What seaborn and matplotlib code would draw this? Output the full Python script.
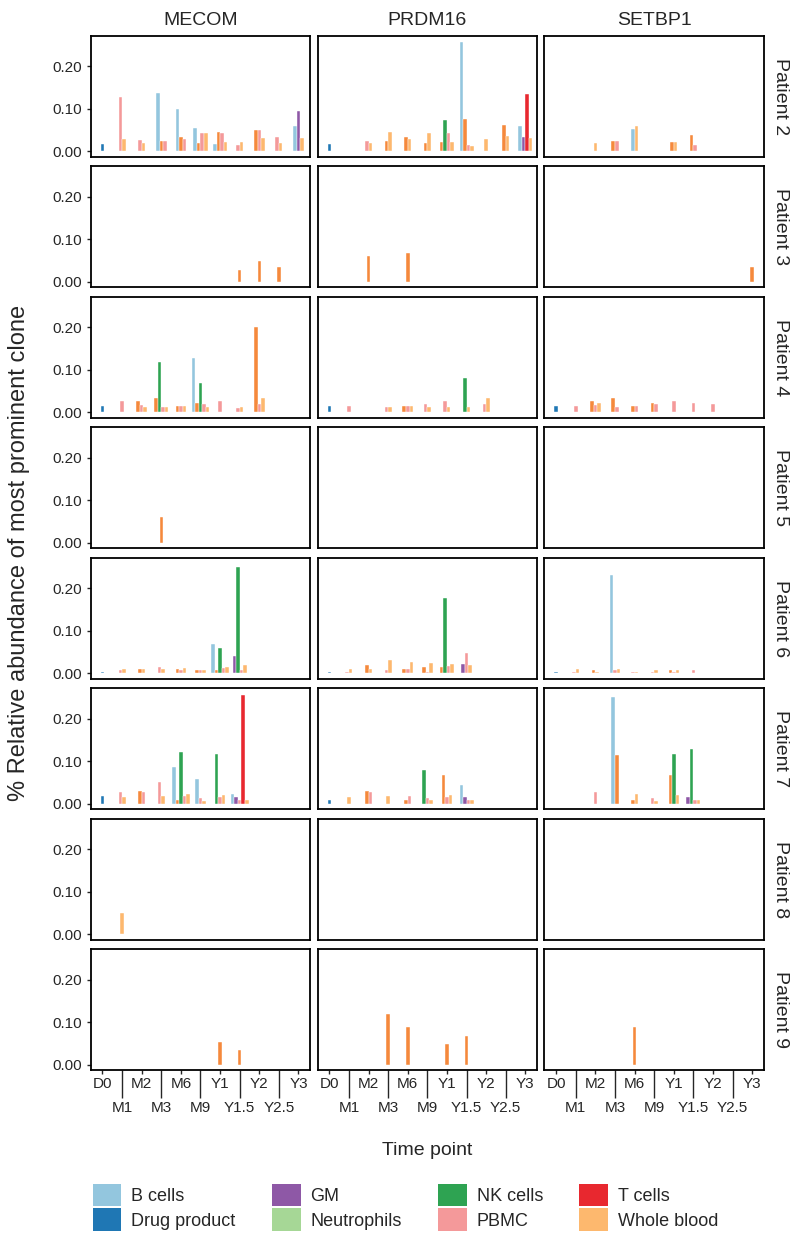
import numpy as np
import pandas as pd
import matplotlib
matplotlib.use("Agg")
import matplotlib.pyplot as plt
import seaborn as sns
from matplotlib.patches import Patch

# 時間點與細胞類型
time_points = ["D0", "M1", "M2", "M3", "M6", "M9", "Y1", "Y1.5", "Y2", "Y2.5", "Y3"]
patients = ["Patient 2", "Patient 3", "Patient 4", "Patient 5",
            "Patient 6", "Patient 7", "Patient 8", "Patient 9"]
genes = ["MECOM", "PRDM16", "SETBP1"]
cell_order = ["B cells", "Bone marrow", "Drug product", "GM", "Neutrophils",
              "NK cells", "PBMC", "T cells", "Whole blood"]
legend_cells = ["B cells", "Drug product", "GM", "Neutrophils",
                "NK cells", "PBMC", "T cells", "Whole blood"]
palette = {"B cells": "#93c6de", "Bone marrow": "#f5893c", "Drug product": "#1f77b4",
           "GM": "#8e58a6", "Neutrophils": "#a6d796", "NK cells": "#2ea352",
           "PBMC": "#f4999a", "T cells": "#e8282f", "Whole blood": "#fdb86e"}

# (patient, time point, cell type, value)
mecom_rows = [
    ("Patient 2", "D0", "Drug product", 0.018),
    ("Patient 2", "M1", "PBMC", 0.127), ("Patient 2", "M1", "Whole blood", 0.029),
    ("Patient 2", "M2", "PBMC", 0.026), ("Patient 2", "M2", "Whole blood", 0.020),
    ("Patient 2", "M3", "B cells", 0.137), ("Patient 2", "M3", "Bone marrow", 0.025), ("Patient 2", "M3", "PBMC", 0.025),
    ("Patient 2", "M6", "B cells", 0.100), ("Patient 2", "M6", "Bone marrow", 0.034), ("Patient 2", "M6", "PBMC", 0.029),
    ("Patient 2", "M9", "B cells", 0.056), ("Patient 2", "M9", "Bone marrow", 0.020), ("Patient 2", "M9", "PBMC", 0.044), ("Patient 2", "M9", "Whole blood", 0.044),
    ("Patient 2", "Y1", "B cells", 0.018), ("Patient 2", "Y1", "Bone marrow", 0.045), ("Patient 2", "Y1", "PBMC", 0.044), ("Patient 2", "Y1", "Whole blood", 0.022),
    ("Patient 2", "Y1.5", "PBMC", 0.015), ("Patient 2", "Y1.5", "Whole blood", 0.023),
    ("Patient 2", "Y2", "Bone marrow", 0.050), ("Patient 2", "Y2", "PBMC", 0.050), ("Patient 2", "Y2", "Whole blood", 0.031),
    ("Patient 2", "Y2.5", "PBMC", 0.033), ("Patient 2", "Y2.5", "Whole blood", 0.020),
    ("Patient 2", "Y3", "B cells", 0.059), ("Patient 2", "Y3", "GM", 0.096), ("Patient 2", "Y3", "Whole blood", 0.032),
    ("Patient 3", "Y1.5", "Bone marrow", 0.028), ("Patient 3", "Y2", "Bone marrow", 0.050), ("Patient 3", "Y2.5", "Bone marrow", 0.035),
    ("Patient 4", "D0", "Drug product", 0.016),
    ("Patient 4", "M1", "PBMC", 0.027),
    ("Patient 4", "M2", "Bone marrow", 0.028), ("Patient 4", "M2", "PBMC", 0.018), ("Patient 4", "M2", "Whole blood", 0.012),
    ("Patient 4", "M3", "Bone marrow", 0.035), ("Patient 4", "M3", "NK cells", 0.119), ("Patient 4", "M3", "PBMC", 0.012), ("Patient 4", "M3", "Whole blood", 0.013),
    ("Patient 4", "M6", "Bone marrow", 0.016), ("Patient 4", "M6", "PBMC", 0.014), ("Patient 4", "M6", "Whole blood", 0.014),
    ("Patient 4", "M9", "B cells", 0.127), ("Patient 4", "M9", "Bone marrow", 0.022), ("Patient 4", "M9", "NK cells", 0.070), ("Patient 4", "M9", "PBMC", 0.019), ("Patient 4", "M9", "Whole blood", 0.013),
    ("Patient 4", "Y1", "PBMC", 0.027),
    ("Patient 4", "Y1.5", "PBMC", 0.011), ("Patient 4", "Y1.5", "Whole blood", 0.013),
    ("Patient 4", "Y2", "Bone marrow", 0.200), ("Patient 4", "Y2", "PBMC", 0.019), ("Patient 4", "Y2", "Whole blood", 0.033),
    ("Patient 5", "M3", "Bone marrow", 0.062),
    ("Patient 6", "D0", "Drug product", 0.003),
    ("Patient 6", "M1", "PBMC", 0.009), ("Patient 6", "M1", "Whole blood", 0.011),
    ("Patient 6", "M2", "Bone marrow", 0.010), ("Patient 6", "M2", "Whole blood", 0.010),
    ("Patient 6", "M3", "PBMC", 0.015), ("Patient 6", "M3", "Whole blood", 0.010),
    ("Patient 6", "M6", "Bone marrow", 0.011), ("Patient 6", "M6", "PBMC", 0.009), ("Patient 6", "M6", "Whole blood", 0.012),
    ("Patient 6", "M9", "Bone marrow", 0.008), ("Patient 6", "M9", "PBMC", 0.008), ("Patient 6", "M9", "Whole blood", 0.008),
    ("Patient 6", "Y1", "B cells", 0.068), ("Patient 6", "Y1", "Bone marrow", 0.008), ("Patient 6", "Y1", "NK cells", 0.060), ("Patient 6", "Y1", "PBMC", 0.013), ("Patient 6", "Y1", "Whole blood", 0.015),
    ("Patient 6", "Y1.5", "GM", 0.040), ("Patient 6", "Y1.5", "NK cells", 0.250), ("Patient 6", "Y1.5", "PBMC", 0.009), ("Patient 6", "Y1.5", "Whole blood", 0.019),
    ("Patient 7", "D0", "Drug product", 0.019),
    ("Patient 7", "M1", "PBMC", 0.027), ("Patient 7", "M1", "Whole blood", 0.016),
    ("Patient 7", "M2", "Bone marrow", 0.031), ("Patient 7", "M2", "PBMC", 0.027),
    ("Patient 7", "M3", "PBMC", 0.051), ("Patient 7", "M3", "Whole blood", 0.018),
    ("Patient 7", "M6", "B cells", 0.086), ("Patient 7", "M6", "Bone marrow", 0.009), ("Patient 7", "M6", "NK cells", 0.122), ("Patient 7", "M6", "PBMC", 0.018), ("Patient 7", "M6", "Whole blood", 0.024),
    ("Patient 7", "M9", "B cells", 0.058), ("Patient 7", "M9", "PBMC", 0.013), ("Patient 7", "M9", "Whole blood", 0.007),
    ("Patient 7", "Y1", "NK cells", 0.118), ("Patient 7", "Y1", "PBMC", 0.016), ("Patient 7", "Y1", "Whole blood", 0.022),
    ("Patient 7", "Y1.5", "B cells", 0.023), ("Patient 7", "Y1.5", "GM", 0.016), ("Patient 7", "Y1.5", "PBMC", 0.009), ("Patient 7", "Y1.5", "T cells", 0.256), ("Patient 7", "Y1.5", "Whole blood", 0.009),
    ("Patient 8", "D0", "Drug product", 0.002),
    ("Patient 8", "M1", "Whole blood", 0.050),
    ("Patient 9", "Y1", "Bone marrow", 0.053), ("Patient 9", "Y1.5", "Bone marrow", 0.036),
]

prdm16_rows = [
    ("Patient 2", "D0", "Drug product", 0.018),
    ("Patient 2", "M2", "PBMC", 0.025), ("Patient 2", "M2", "Whole blood", 0.020),
    ("Patient 2", "M3", "Bone marrow", 0.025), ("Patient 2", "M3", "Whole blood", 0.046),
    ("Patient 2", "M6", "Bone marrow", 0.033), ("Patient 2", "M6", "Whole blood", 0.030),
    ("Patient 2", "M9", "Bone marrow", 0.020), ("Patient 2", "M9", "Whole blood", 0.043),
    ("Patient 2", "Y1", "Bone marrow", 0.023), ("Patient 2", "Y1", "NK cells", 0.075), ("Patient 2", "Y1", "PBMC", 0.044), ("Patient 2", "Y1", "Whole blood", 0.022),
    ("Patient 2", "Y1.5", "B cells", 0.257), ("Patient 2", "Y1.5", "Bone marrow", 0.076), ("Patient 2", "Y1.5", "PBMC", 0.015), ("Patient 2", "Y1.5", "Whole blood", 0.012),
    ("Patient 2", "Y2", "Whole blood", 0.030),
    ("Patient 2", "Y2.5", "Bone marrow", 0.063), ("Patient 2", "Y2.5", "Whole blood", 0.037),
    ("Patient 2", "Y3", "B cells", 0.059), ("Patient 2", "Y3", "GM", 0.033), ("Patient 2", "Y3", "T cells", 0.135), ("Patient 2", "Y3", "Whole blood", 0.031),
    ("Patient 3", "M2", "Bone marrow", 0.060), ("Patient 3", "M6", "Bone marrow", 0.067),
    ("Patient 4", "D0", "Drug product", 0.016),
    ("Patient 4", "M1", "PBMC", 0.014),
    ("Patient 4", "M3", "PBMC", 0.012), ("Patient 4", "M3", "Whole blood", 0.013),
    ("Patient 4", "M6", "Bone marrow", 0.016), ("Patient 4", "M6", "PBMC", 0.014), ("Patient 4", "M6", "Whole blood", 0.014),
    ("Patient 4", "M9", "PBMC", 0.020), ("Patient 4", "M9", "Whole blood", 0.012),
    ("Patient 4", "Y1", "PBMC", 0.027), ("Patient 4", "Y1", "Whole blood", 0.012),
    ("Patient 4", "Y1.5", "NK cells", 0.082), ("Patient 4", "Y1.5", "Whole blood", 0.013),
    ("Patient 4", "Y2", "PBMC", 0.019), ("Patient 4", "Y2", "Whole blood", 0.033),
    ("Patient 6", "D0", "Drug product", 0.003),
    ("Patient 6", "M1", "PBMC", 0.004), ("Patient 6", "M1", "Whole blood", 0.011),
    ("Patient 6", "M2", "Bone marrow", 0.019), ("Patient 6", "M2", "Whole blood", 0.010),
    ("Patient 6", "M3", "PBMC", 0.008), ("Patient 6", "M3", "Whole blood", 0.031),
    ("Patient 6", "M6", "Bone marrow", 0.010), ("Patient 6", "M6", "PBMC", 0.010), ("Patient 6", "M6", "Whole blood", 0.027),
    ("Patient 6", "M9", "Bone marrow", 0.015), ("Patient 6", "M9", "PBMC", 0.003), ("Patient 6", "M9", "Whole blood", 0.024),
    ("Patient 6", "Y1", "Bone marrow", 0.015), ("Patient 6", "Y1", "NK cells", 0.177), ("Patient 6", "Y1", "PBMC", 0.017), ("Patient 6", "Y1", "Whole blood", 0.022),
    ("Patient 6", "Y1.5", "GM", 0.022), ("Patient 6", "Y1.5", "PBMC", 0.047), ("Patient 6", "Y1.5", "Whole blood", 0.019),
    ("Patient 7", "D0", "Drug product", 0.010),
    ("Patient 7", "M1", "Whole blood", 0.016),
    ("Patient 7", "M2", "Bone marrow", 0.031), ("Patient 7", "M2", "PBMC", 0.027),
    ("Patient 7", "M3", "Whole blood", 0.019),
    ("Patient 7", "M6", "Bone marrow", 0.009), ("Patient 7", "M6", "PBMC", 0.019),
    ("Patient 7", "M9", "NK cells", 0.079), ("Patient 7", "M9", "PBMC", 0.013), ("Patient 7", "M9", "Whole blood", 0.008),
    ("Patient 7", "Y1", "Bone marrow", 0.067), ("Patient 7", "Y1", "PBMC", 0.016), ("Patient 7", "Y1", "Whole blood", 0.022),
    ("Patient 7", "Y1.5", "B cells", 0.045), ("Patient 7", "Y1.5", "GM", 0.016), ("Patient 7", "Y1.5", "PBMC", 0.009), ("Patient 7", "Y1.5", "Whole blood", 0.009),
    ("Patient 8", "D0", "Drug product", 0.002),
    ("Patient 9", "M3", "Bone marrow", 0.120), ("Patient 9", "M6", "Bone marrow", 0.090),
    ("Patient 9", "Y1", "Bone marrow", 0.050), ("Patient 9", "Y1.5", "Bone marrow", 0.069),
]

setbp1_rows = [
    ("Patient 2", "M2", "Whole blood", 0.020),
    ("Patient 2", "M3", "Bone marrow", 0.025), ("Patient 2", "M3", "PBMC", 0.025),
    ("Patient 2", "M6", "B cells", 0.052), ("Patient 2", "M6", "Whole blood", 0.059),
    ("Patient 2", "Y1", "Bone marrow", 0.023), ("Patient 2", "Y1", "Whole blood", 0.022),
    ("Patient 2", "Y1.5", "Bone marrow", 0.038), ("Patient 2", "Y1.5", "PBMC", 0.015),
    ("Patient 3", "Y3", "Bone marrow", 0.034),
    ("Patient 4", "D0", "Drug product", 0.016),
    ("Patient 4", "M1", "PBMC", 0.014),
    ("Patient 4", "M2", "Bone marrow", 0.028), ("Patient 4", "M2", "PBMC", 0.017), ("Patient 4", "M2", "Whole blood", 0.023),
    ("Patient 4", "M3", "Bone marrow", 0.035), ("Patient 4", "M3", "PBMC", 0.012),
    ("Patient 4", "M6", "Bone marrow", 0.016), ("Patient 4", "M6", "PBMC", 0.014),
    ("Patient 4", "M9", "Bone marrow", 0.022), ("Patient 4", "M9", "PBMC", 0.019),
    ("Patient 4", "Y1", "PBMC", 0.027),
    ("Patient 4", "Y1.5", "PBMC", 0.021),
    ("Patient 4", "Y2", "PBMC", 0.019),
    ("Patient 6", "D0", "Drug product", 0.003),
    ("Patient 6", "M1", "PBMC", 0.004), ("Patient 6", "M1", "Whole blood", 0.010),
    ("Patient 6", "M2", "Bone marrow", 0.009), ("Patient 6", "M2", "Whole blood", 0.004),
    ("Patient 6", "M3", "B cells", 0.232), ("Patient 6", "M3", "PBMC", 0.007), ("Patient 6", "M3", "Whole blood", 0.010),
    ("Patient 6", "M6", "PBMC", 0.004), ("Patient 6", "M6", "Whole blood", 0.004),
    ("Patient 6", "M9", "PBMC", 0.003), ("Patient 6", "M9", "Whole blood", 0.007),
    ("Patient 6", "Y1", "Bone marrow", 0.007), ("Patient 6", "Y1", "PBMC", 0.003), ("Patient 6", "Y1", "Whole blood", 0.007),
    ("Patient 6", "Y1.5", "PBMC", 0.009),
    ("Patient 7", "M2", "PBMC", 0.027),
    ("Patient 7", "M3", "B cells", 0.252), ("Patient 7", "M3", "Bone marrow", 0.114),
    ("Patient 7", "M6", "Bone marrow", 0.009), ("Patient 7", "M6", "Whole blood", 0.024),
    ("Patient 7", "M9", "PBMC", 0.013), ("Patient 7", "M9", "Whole blood", 0.007),
    ("Patient 7", "Y1", "Bone marrow", 0.067), ("Patient 7", "Y1", "NK cells", 0.118), ("Patient 7", "Y1", "Whole blood", 0.022),
    ("Patient 7", "Y1.5", "GM", 0.016), ("Patient 7", "Y1.5", "NK cells", 0.128), ("Patient 7", "Y1.5", "PBMC", 0.009), ("Patient 7", "Y1.5", "Whole blood", 0.009),
    ("Patient 8", "D0", "Drug product", 0.002),
    ("Patient 9", "M6", "Bone marrow", 0.090),
]

# 組合成 DataFrame
frames = []
for g, rows in zip(genes, [mecom_rows, prdm16_rows, setbp1_rows]):
    d = pd.DataFrame(rows, columns=["patient", "time", "cell", "value"])
    d["gene"] = g
    frames.append(d)
df = pd.concat(frames, ignore_index=True)
df["t_idx"] = df["time"].map({t: i for i, t in enumerate(time_points)})
df["c_idx"] = df["cell"].map({c: i for i, c in enumerate(cell_order)})
df = df.sort_values(["gene", "patient", "t_idx", "c_idx"]).reset_index(drop=True)

# dodge: 只在有值的類別之間置中排列
bw = 0.18
grp = df.groupby(["gene", "patient", "t_idx"])
df["j"] = grp.cumcount()
df["n"] = grp["value"].transform("size")
df["x"] = df["t_idx"] + (df["j"] - (df["n"] - 1) / 2) * bw

sns.set_style("white")
plt.rcParams["font.family"] = ["Liberation Sans", "DejaVu Sans"]

fig, axes = plt.subplots(8, 3, figsize=(8, 12.46), dpi=100)
fig.subplots_adjust(left=0.1134, right=0.955, top=0.9713, bottom=0.1411,
                    wspace=0.0334, hspace=0.0785)

for r, p in enumerate(patients):
    for c, g in enumerate(genes):
        ax = axes[r, c]
        sub = df[(df.patient == p) & (df.gene == g)]
        ax.bar(sub["x"], sub["value"], width=bw,
               color=sub["cell"].map(palette), edgecolor="white", linewidth=0.3)
        ax.set_xlim(-0.6, 10.6)
        ax.set_ylim(-0.0125, 0.272)
        for s in ax.spines.values():
            s.set_visible(True)
            s.set_color("black")
            s.set_linewidth(1.3)
        ax.set_yticks([0, 0.1, 0.2])
        ax.set_xticks(range(0, 11, 2))
        ax.set_xticks(range(1, 11, 2), minor=True)
        if c == 0:
            ax.set_yticklabels(["0.00", "0.10", "0.20"])
            ax.tick_params(axis="y", left=True, length=3, width=1, pad=3, labelsize=11)
        else:
            ax.tick_params(axis="y", left=False, labelleft=False)
        if r == len(patients) - 1:
            ax.set_xticklabels(time_points[0::2])
            ax.set_xticklabels(time_points[1::2], minor=True)
            ax.tick_params(axis="x", which="major", bottom=True, length=3, width=1, pad=2, labelsize=11)
            ax.tick_params(axis="x", which="minor", bottom=True, length=20, width=1, pad=2, labelsize=11)
        else:
            ax.tick_params(axis="x", which="both", bottom=False, labelbottom=False)
        if r == 0:
            ax.set_title(g, fontsize=14, pad=8)
        if c == 2:
            ax.text(1.075, 0.5, p, rotation=-90, transform=ax.transAxes,
                    ha="center", va="center", fontsize=14)

fig.text(0.024, 0.556, "% Relative abundance of most prominent clone",
         rotation=90, ha="center", va="center", fontsize=17)
fig.text(0.534, 0.077, "Time point", ha="center", va="center", fontsize=14)

handles = [Patch(facecolor=palette[c], edgecolor="none", label=c) for c in legend_cells]
fig.legend(handles=handles, ncol=4, loc="center", bbox_to_anchor=(0.507, 0.031),
           frameon=False, fontsize=13, handlelength=1.6, handleheight=1.55,
           handletextpad=0.55, labelspacing=0.1, columnspacing=2.0)

fig.savefig("out.png", dpi=100)
